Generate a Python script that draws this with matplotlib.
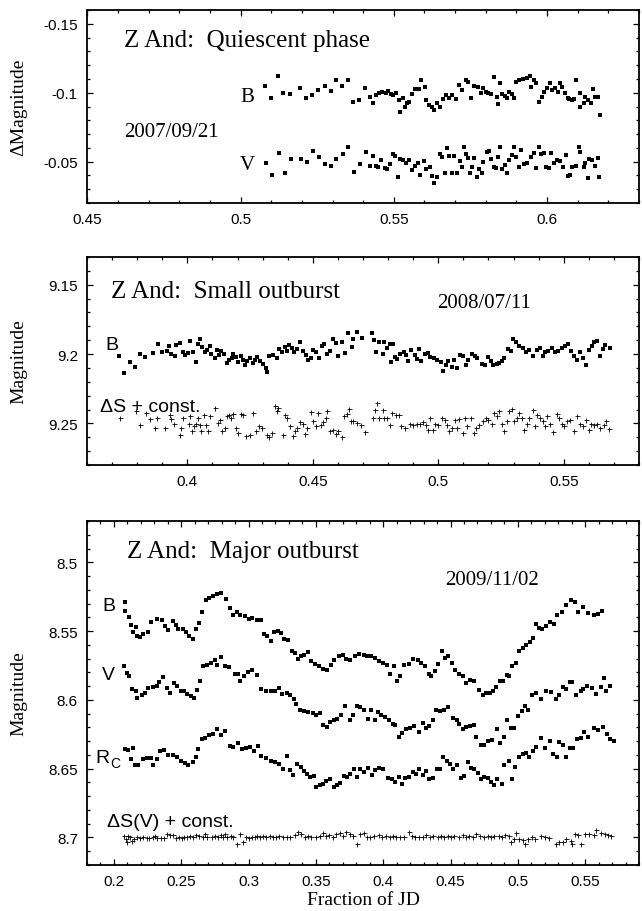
import matplotlib
matplotlib.use("Agg")
import matplotlib.pyplot as plt
from matplotlib.ticker import MultipleLocator, FormatStrFormatter

plt.rcParams['font.family'] = ['Liberation Sans', 'DejaVu Sans']
SERIF = ['Liberation Serif', 'DejaVu Serif']

# ---- 2007/09/21 quiescent phase (delta magnitudes) ----
quiet_b_jd = [0.5081, 0.5100, 0.5121, 0.5140, 0.5160, 0.5194, 0.5214, 0.5233, 0.5254, 0.5274,
              0.5294, 0.5313, 0.5332, 0.5349, 0.5366, 0.5385, 0.5407, 0.5423, 0.5431, 0.5441,
              0.5451, 0.5463, 0.5473, 0.5481, 0.5490, 0.5499, 0.5507, 0.5517, 0.5521, 0.5530,
              0.5537, 0.5543, 0.5550, 0.5561, 0.5570, 0.5581, 0.5590, 0.5601, 0.5606, 0.5614,
              0.5623, 0.5632, 0.5640, 0.5650, 0.5659, 0.5670, 0.5680, 0.5691, 0.5703, 0.5712,
              0.5723, 0.5734, 0.5743, 0.5752, 0.5763, 0.5774, 0.5783, 0.5792, 0.5800, 0.5806,
              0.5816, 0.5827, 0.5836, 0.5840, 0.5846, 0.5854, 0.5863, 0.5870, 0.5876, 0.5885,
              0.5893, 0.5899, 0.5909, 0.5920, 0.5933, 0.5943, 0.5949, 0.5956, 0.5965, 0.5973,
              0.5983, 0.5989, 0.6000, 0.6009, 0.6016, 0.6027, 0.6036, 0.6043, 0.6049, 0.6059,
              0.6067, 0.6072, 0.6083, 0.6089, 0.6096, 0.6107, 0.6109, 0.6120, 0.6125, 0.6133,
              0.6142, 0.6149, 0.6157, 0.6165, 0.6173]
quiet_b_mag = [-0.1048, -0.0959, -0.1121, -0.0995, -0.0988, -0.1031, -0.0959, -0.0983, -0.1019, -0.1048,
               -0.1014, -0.1092, -0.1048, -0.1092, -0.0935, -0.0947, -0.1031, -0.0966, -0.0923, -0.0983,
               -0.0995, -0.1007, -0.0995, -0.1014, -0.0990, -0.0983, -0.1000, -0.0947, -0.0862, -0.0959,
               -0.0894, -0.0923, -0.0935, -0.0990, -0.1024, -0.1024, -0.1092, -0.1043, -0.0947, -0.0911,
               -0.0899, -0.0874, -0.0923, -0.0899, -0.0952, -0.0983, -0.0959, -0.0983, -0.0952, -0.1056,
               -0.1019, -0.1092, -0.1080, -0.0959, -0.1048, -0.1039, -0.0995, -0.1031, -0.1007, -0.0995,
               -0.0990, -0.1111, -0.0971, -0.0918, -0.1068, -0.0990, -0.0976, -0.0959, -0.1007, -0.0990,
               -0.0959, -0.1080, -0.1092, -0.1097, -0.1104, -0.1121, -0.1039, -0.1092, -0.1072, -0.0935,
               -0.0971, -0.1007, -0.1031, -0.1072, -0.1019, -0.1031, -0.1007, -0.1068, -0.1043, -0.1000,
               -0.0959, -0.0952, -0.0947, -0.0957, -0.1092, -0.0995, -0.0899, -0.0923, -0.0971, -0.0947,
               -0.0923, -0.1024, -0.0971, -0.0966, -0.0838]
quiet_v_jd = [0.5084, 0.5104, 0.5124, 0.5144, 0.5164, 0.5197, 0.5217, 0.5237, 0.5257, 0.5277,
              0.5294, 0.5313, 0.5334, 0.5350, 0.5370, 0.5390, 0.5410, 0.5423, 0.5433, 0.5441,
              0.5450, 0.5459, 0.5470, 0.5477, 0.5486, 0.5497, 0.5503, 0.5513, 0.5521, 0.5530,
              0.5539, 0.5550, 0.5561, 0.5570, 0.5579, 0.5587, 0.5597, 0.5606, 0.5617, 0.5623,
              0.5632, 0.5640, 0.5650, 0.5656, 0.5666, 0.5672, 0.5680, 0.5690, 0.5696, 0.5707,
              0.5716, 0.5723, 0.5730, 0.5736, 0.5743, 0.5750, 0.5756, 0.5763, 0.5770, 0.5779,
              0.5787, 0.5792, 0.5803, 0.5810, 0.5816, 0.5827, 0.5834, 0.5840, 0.5846, 0.5854,
              0.5863, 0.5870, 0.5876, 0.5885, 0.5893, 0.5899, 0.5909, 0.5916, 0.5925, 0.5936,
              0.5947, 0.5956, 0.5963, 0.5973, 0.5979, 0.5989, 0.5996, 0.6005, 0.6013, 0.6023,
              0.6032, 0.6043, 0.6053, 0.6063, 0.6069, 0.6076, 0.6083, 0.6093, 0.6103, 0.6109,
              0.6120, 0.6125, 0.6133, 0.6138, 0.6146, 0.6156, 0.6165, 0.6169]
quiet_v_mag = [-0.0488, -0.0403, -0.0560, -0.0415, -0.0517, -0.0517, -0.0500, -0.0580, -0.0536, -0.0481,
               -0.0469, -0.0517, -0.0556, -0.0604, -0.0428, -0.0483, -0.0568, -0.0469, -0.0541, -0.0471,
               -0.0464, -0.0512, -0.0457, -0.0444, -0.0483, -0.0556, -0.0541, -0.0386, -0.0522, -0.0512,
               -0.0493, -0.0512, -0.0440, -0.0469, -0.0488, -0.0403, -0.0507, -0.0444, -0.0464, -0.0396,
               -0.0343, -0.0386, -0.0556, -0.0536, -0.0415, -0.0597, -0.0541, -0.0420, -0.0541, -0.0415,
               -0.0507, -0.0464, -0.0609, -0.0556, -0.0524, -0.0420, -0.0464, -0.0524, -0.0391, -0.0444,
               -0.0415, -0.0500, -0.0572, -0.0580, -0.0517, -0.0464, -0.0452, -0.0536, -0.0609, -0.0444,
               -0.0476, -0.0420, -0.0512, -0.0548, -0.0609, -0.0536, -0.0459, -0.0585, -0.0483, -0.0493,
               -0.0536, -0.0560, -0.0452, -0.0609, -0.0556, -0.0565, -0.0464, -0.0452, -0.0560, -0.0488,
               -0.0512, -0.0507, -0.0464, -0.0548, -0.0396, -0.0403, -0.0464, -0.0469, -0.0609, -0.0572,
               -0.0464, -0.0493, -0.0379, -0.0517, -0.0512, -0.0469, -0.0524, -0.0391]

# ---- 2008/07/11 small outburst ----
small_b_jd = [0.3726, 0.3746, 0.3770, 0.3790, 0.3810, 0.3830, 0.3863, 0.3883, 0.3897, 0.3917,
              0.3927, 0.3936, 0.3950, 0.3956, 0.3970, 0.3983, 0.3990, 0.4003, 0.4012, 0.4023,
              0.4034, 0.4043, 0.4052, 0.4060, 0.4070, 0.4079, 0.4090, 0.4096, 0.4110, 0.4119,
              0.4127, 0.4136, 0.4145, 0.4156, 0.4167, 0.4176, 0.4183, 0.4193, 0.4203, 0.4212,
              0.4220, 0.4229, 0.4239, 0.4249, 0.4260, 0.4269, 0.4279, 0.4289, 0.4303, 0.4313,
              0.4319, 0.4326, 0.4342, 0.4358, 0.4366, 0.4376, 0.4389, 0.4398, 0.4406, 0.4416,
              0.4425, 0.4438, 0.4449, 0.4462, 0.4473, 0.4482, 0.4492, 0.4502, 0.4513, 0.4526,
              0.4536, 0.4545, 0.4558, 0.4569, 0.4582, 0.4593, 0.4602, 0.4615, 0.4629, 0.4642,
              0.4655, 0.4662, 0.4675, 0.4695,
              0.4734, 0.4743, 0.4751, 0.4764, 0.4778, 0.4783, 0.4796, 0.4809, 0.4820,
              0.4813, 0.4827, 0.4836, 0.4849, 0.4863, 0.4873, 0.4880, 0.4893, 0.4907, 0.4916,
              0.4924, 0.4933, 0.4947, 0.4960, 0.4969, 0.4983, 0.4996, 0.5009, 0.5020, 0.5030,
              0.5040, 0.5053, 0.5062, 0.5076, 0.5086, 0.5100, 0.5110, 0.5120, 0.5133, 0.5146,
              0.5156, 0.5173, 0.5186, 0.5200, 0.5209, 0.5219, 0.5233, 0.5243, 0.5253, 0.5262,
              0.5279, 0.5289, 0.5299, 0.5310, 0.5323, 0.5337, 0.5350, 0.5363, 0.5379, 0.5393,
              0.5406, 0.5417, 0.5427, 0.5439, 0.5452, 0.5466, 0.5479, 0.5492, 0.5506, 0.5519,
              0.5528, 0.5539, 0.5552, 0.5566, 0.5576, 0.5590, 0.5599, 0.5612, 0.5622, 0.5632,
              0.5643, 0.5656, 0.5665, 0.5683]
small_b_mag = [9.2012, 9.2139, 9.2060, 9.2091, 9.2002, 9.2019, 9.1995, 9.1930, 9.1983, 9.1978,
               9.1940, 9.2002, 9.2012, 9.1935, 9.1923, 9.1983, 9.2007, 9.1995, 9.1906, 9.1983,
               9.2055, 9.1930, 9.1892, 9.1947, 9.1983, 9.1971, 9.1940, 9.2002, 9.2031, 9.1971,
               9.2007, 9.1978, 9.2002, 9.2067, 9.2043, 9.2026, 9.2002, 9.2019, 9.2055, 9.2012,
               9.2043, 9.2079, 9.2050, 9.2026, 9.2067, 9.2043, 9.2019, 9.2050, 9.2074, 9.2103,
               9.2127, 9.2012, 9.2007, 9.2026, 9.1964, 9.1983, 9.1947, 9.1978, 9.1935, 9.1959,
               9.1983, 9.1964, 9.1911, 9.1978, 9.2007, 9.2043, 9.2026, 9.1971, 9.1983, 9.2026,
               9.1940, 9.1930, 9.2002, 9.1978, 9.1892, 9.1923, 9.2012, 9.1911, 9.1995, 9.1851,
               9.1947, 9.1892, 9.1839, 9.1882,
               9.1851, 9.1899, 9.1983, 9.1911, 9.2002, 9.1916, 9.1959, 9.1930, 9.1930,
               9.2055, 9.2019, 9.2036, 9.2002, 9.1988, 9.2007, 9.2050, 9.1971, 9.2007, 9.2036,
               9.1964, 9.2050, 9.2002, 9.1995, 9.2019, 9.2026, 9.2043, 9.2060, 9.2122, 9.2079,
               9.2050, 9.2091, 9.2043, 9.2103, 9.2007, 9.2012, 9.2079, 9.2043, 9.2002, 9.2012,
               9.2026, 9.2074, 9.2079, 9.2019, 9.2050, 9.2079, 9.2074, 9.2067, 9.2050, 9.2026,
               9.1964, 9.1978, 9.1892, 9.1911, 9.1940, 9.1954, 9.1983, 9.1971, 9.2012, 9.1971,
               9.1954, 9.2012, 9.1988, 9.1978, 9.1954, 9.1988, 9.1978, 9.1954, 9.1940, 9.1930,
               9.1978, 9.2012, 9.2043, 9.1983, 9.2026, 9.2079, 9.1971, 9.1940, 9.1911, 9.1906,
               9.2012, 9.1964, 9.1935, 9.1959]
small_s_jd = [0.3730, 0.3794, 0.3810, 0.3834, 0.3850, 0.3870, 0.3879, 0.3910, 0.3930, 0.3936,
              0.3946, 0.3970, 0.3976, 0.3983, 0.4007, 0.4012, 0.4020, 0.4026, 0.4036, 0.4043,
              0.4050, 0.4056, 0.4066, 0.4074, 0.4083, 0.4090, 0.4110, 0.4123, 0.4129, 0.4140,
              0.4149, 0.4159, 0.4167, 0.4172, 0.4183, 0.4193, 0.4203, 0.4212, 0.4223, 0.4233,
              0.4249, 0.4260, 0.4273, 0.4287, 0.4296, 0.4316, 0.4326, 0.4336, 0.4349, 0.4356,
              0.4362, 0.4380, 0.4389, 0.4396, 0.4409, 0.4420, 0.4429, 0.4438, 0.4449, 0.4460,
              0.4469, 0.4478, 0.4492, 0.4502, 0.4513, 0.4522, 0.4532, 0.4542, 0.4553, 0.4558,
              0.4569, 0.4582, 0.4593, 0.4602, 0.4615, 0.4625, 0.4635, 0.4646, 0.4651, 0.4662,
              0.4678, 0.4691, 0.4709,
              0.4738, 0.4747, 0.4756, 0.4764, 0.4778, 0.4783, 0.4796, 0.4809,
              0.4817, 0.4831, 0.4844, 0.4853, 0.4867, 0.4887, 0.4900, 0.4916, 0.4927, 0.4940,
              0.4951, 0.4960, 0.4969, 0.4977, 0.4987, 0.5000, 0.5013, 0.5026, 0.5036, 0.5044,
              0.5053, 0.5066, 0.5076, 0.5084, 0.5097, 0.5106, 0.5116, 0.5129, 0.5142, 0.5150,
              0.5164, 0.5177, 0.5190, 0.5200, 0.5213, 0.5222, 0.5233, 0.5243, 0.5253, 0.5262,
              0.5273, 0.5283, 0.5293, 0.5302, 0.5313, 0.5323, 0.5333, 0.5342, 0.5353, 0.5363,
              0.5377, 0.5386, 0.5395, 0.5406, 0.5417, 0.5426, 0.5435, 0.5446, 0.5456, 0.5472,
              0.5483, 0.5492, 0.5502, 0.5515, 0.5526, 0.5539, 0.5552, 0.5566, 0.5576, 0.5590,
              0.5599, 0.5608, 0.5619, 0.5632, 0.5645, 0.5659, 0.5669, 0.5679]
small_s_mag = [9.2458, 9.2410, 9.2510, 9.2426, 9.2467, 9.2534, 9.2462, 9.2530, 9.2438, 9.2467,
               9.2506, 9.2582, 9.2534, 9.2462, 9.2506, 9.2450, 9.2558, 9.2522, 9.2506, 9.2462,
               9.2510, 9.2558, 9.2443, 9.2515, 9.2554, 9.2450, 9.2390, 9.2498, 9.2474, 9.2558,
               9.2534, 9.2450, 9.2438, 9.2462, 9.2434, 9.2534, 9.2570, 9.2434, 9.2438, 9.2594,
               9.2582, 9.2426, 9.2558, 9.2522, 9.2534, 9.2582, 9.2601, 9.2570, 9.2371, 9.2410,
               9.2390, 9.2582, 9.2438, 9.2462, 9.2522, 9.2594, 9.2554, 9.2534, 9.2491, 9.2506,
               9.2578, 9.2534, 9.2419, 9.2486, 9.2522, 9.2426, 9.2510, 9.2491, 9.2462, 9.2410,
               9.2558, 9.2546, 9.2578, 9.2558, 9.2601, 9.2450, 9.2434, 9.2395, 9.2486, 9.2482,
               9.2498, 9.2510, 9.2563,
               9.2458, 9.2402, 9.2355, 9.2458, 9.2402, 9.2462, 9.2462, 9.2515,
               9.2426, 9.2443, 9.2443, 9.2522, 9.2534, 9.2506, 9.2510, 9.2506, 9.2506, 9.2491,
               9.2515, 9.2546, 9.2458, 9.2546, 9.2506, 9.2515, 9.2458, 9.2474, 9.2515, 9.2558,
               9.2534, 9.2474, 9.2530, 9.2467, 9.2570, 9.2462, 9.2522, 9.2458, 9.2570, 9.2534,
               9.2515, 9.2486, 9.2458, 9.2474, 9.2506, 9.2426, 9.2450, 9.2410, 9.2506, 9.2554,
               9.2486, 9.2410, 9.2395, 9.2486, 9.2458, 9.2426, 9.2462, 9.2546, 9.2506, 9.2462,
               9.2402, 9.2522, 9.2438, 9.2462, 9.2486, 9.2522, 9.2450, 9.2506, 9.2563, 9.2434,
               9.2458, 9.2506, 9.2522, 9.2486, 9.2474, 9.2558, 9.2450, 9.2506, 9.2522, 9.2474,
               9.2546, 9.2506, 9.2515, 9.2506, 9.2534, 9.2515, 9.2482, 9.2539]

# ---- 2009/11/02 major outburst ----
major_b_jd = [0.2082, 0.2082, 0.2112, 0.2127, 0.2164, 0.2144, 0.2169, 0.2194, 0.2218, 0.2251,
              0.2275, 0.2317, 0.2354, 0.2379, 0.2399, 0.2436, 0.2461, 0.2478, 0.2510, 0.2535,
              0.2560, 0.2584, 0.2609, 0.2634, 0.2654, 0.2681, 0.2708, 0.2738, 0.2767, 0.2799,
              0.2832, 0.2861, 0.2886, 0.2911, 0.2940, 0.2973, 0.3002, 0.3029, 0.3059, 0.3089,
              0.3114, 0.3138, 0.3163, 0.3188, 0.3217, 0.3242, 0.3262, 0.3292, 0.3321, 0.3344,
              0.3366, 0.3393, 0.3415, 0.3440, 0.3465, 0.3494, 0.3524, 0.3554, 0.3586, 0.3613,
              0.3638, 0.3672, 0.3702, 0.3727, 0.3756, 0.3791, 0.3821, 0.3855,
              0.3877, 0.3910, 0.3942, 0.3971, 0.4001, 0.4026, 0.4050, 0.4078, 0.4100, 0.4125,
              0.4157, 0.4189, 0.4224, 0.4256, 0.4280, 0.4313, 0.4337, 0.4357, 0.4387, 0.4409,
              0.4436, 0.4456, 0.4478, 0.4510, 0.4530, 0.4560, 0.4590, 0.4614, 0.4644, 0.4676,
              0.4708, 0.4738, 0.4763, 0.4792, 0.4812, 0.4837, 0.4866, 0.4891, 0.4916, 0.4931,
              0.4960, 0.4985, 0.5010, 0.5035, 0.5059, 0.5089, 0.5109, 0.5134, 0.5158, 0.5183,
              0.5208, 0.5237, 0.5270, 0.5294, 0.5326, 0.5361, 0.5396, 0.5425, 0.5450, 0.5485,
              0.5524, 0.5569, 0.5598, 0.5628]
major_b_mag = [8.5292, 8.5352, 8.5401, 8.5456, 8.5473, 8.5509, 8.5533, 8.5546, 8.5521, 8.5504,
               8.5432, 8.5413, 8.5418, 8.5466, 8.5490, 8.5425, 8.5456, 8.5485, 8.5485, 8.5509,
               8.5533, 8.5558, 8.5485, 8.5442, 8.5364, 8.5273, 8.5263, 8.5248, 8.5234, 8.5224,
               8.5268, 8.5335, 8.5384, 8.5364, 8.5384, 8.5393, 8.5413, 8.5408, 8.5418, 8.5418,
               8.5521, 8.5538, 8.5570, 8.5509, 8.5497, 8.5514, 8.5558, 8.5562, 8.5642, 8.5659,
               8.5703, 8.5683, 8.5674, 8.5654, 8.5715, 8.5739, 8.5756, 8.5775, 8.5780, 8.5746,
               8.5707, 8.5683, 8.5674, 8.5703, 8.5707, 8.5683, 8.5666, 8.5671,
               8.5678, 8.5683, 8.5698, 8.5715, 8.5732, 8.5746, 8.5811, 8.5756, 8.5860, 8.5823,
               8.5746, 8.5739, 8.5703, 8.5707, 8.5732, 8.5756, 8.5811, 8.5828, 8.5787, 8.5739,
               8.5647, 8.5698, 8.5678, 8.5732, 8.5780, 8.5811, 8.5823, 8.5876, 8.5852, 8.5860,
               8.5925, 8.5968, 8.5949, 8.5951, 8.5939, 8.5908, 8.5860, 8.5860, 8.5818, 8.5828,
               8.5751, 8.5732, 8.5642, 8.5625, 8.5601, 8.5577, 8.5553, 8.5449, 8.5480, 8.5485,
               8.5466, 8.5432, 8.5449, 8.5384, 8.5364, 8.5311, 8.5273, 8.5292, 8.5360, 8.5328,
               8.5369, 8.5384, 8.5376, 8.5352]
major_v_jd = [0.2075, 0.2095, 0.2115, 0.2132, 0.2164, 0.2174, 0.2206, 0.2231, 0.2255, 0.2288,
              0.2317, 0.2337, 0.2367, 0.2391, 0.2416, 0.2446, 0.2471, 0.2495, 0.2520, 0.2540,
              0.2569, 0.2594, 0.2614, 0.2639, 0.2663, 0.2688, 0.2718, 0.2750, 0.2762, 0.2795,
              0.2824, 0.2856, 0.2898, 0.2923, 0.2940, 0.2965, 0.2997, 0.3029, 0.3064, 0.3096,
              0.3133, 0.3163, 0.3195, 0.3225, 0.3252, 0.3282, 0.3311, 0.3336, 0.3356, 0.3381,
              0.3410, 0.3442, 0.3480, 0.3504, 0.3529, 0.3554, 0.3583, 0.3603, 0.3633, 0.3658,
              0.3690, 0.3714, 0.3751, 0.3776, 0.3806, 0.3831, 0.3855,
              0.3885, 0.3910, 0.3942, 0.3959, 0.3984, 0.4016, 0.4041, 0.4070, 0.4090, 0.4115,
              0.4140, 0.4169, 0.4199, 0.4231, 0.4263, 0.4293, 0.4318, 0.4337, 0.4367, 0.4392,
              0.4421, 0.4454, 0.4478, 0.4515, 0.4545, 0.4565, 0.4590, 0.4614, 0.4644, 0.4676,
              0.4693, 0.4726, 0.4750, 0.4775, 0.4807, 0.4842, 0.4866, 0.4899, 0.4923, 0.4948,
              0.4973, 0.4998, 0.5030, 0.5054, 0.5079, 0.5104, 0.5134, 0.5171, 0.5208, 0.5245,
              0.5282, 0.5307, 0.5336, 0.5361, 0.5386, 0.5406, 0.5435, 0.5467, 0.5485, 0.5517,
              0.5554, 0.5579, 0.5616, 0.5641, 0.5658, 0.5683]
major_v_mag = [8.5756, 8.5804, 8.5823, 8.5920, 8.5932, 8.5988, 8.5963, 8.5949, 8.5915, 8.5908,
               8.5901, 8.5867, 8.5835, 8.5915, 8.5949, 8.5876, 8.5896, 8.5939, 8.5932, 8.5956,
               8.5973, 8.5988, 8.5925, 8.5860, 8.5756, 8.5746, 8.5732, 8.5707, 8.5746, 8.5690,
               8.5751, 8.5763, 8.5811, 8.5811, 8.5860, 8.5823, 8.5794, 8.5780, 8.5818, 8.5920,
               8.5932, 8.5939, 8.5932, 8.5915, 8.5956, 8.5949, 8.5968, 8.5992, 8.6029, 8.6077,
               8.6084, 8.6089, 8.6094, 8.6113, 8.6094, 8.6181, 8.6198, 8.6161, 8.6149, 8.6137,
               8.6113, 8.6041, 8.6149, 8.6113, 8.6041, 8.6053, 8.6077,
               8.6137, 8.6077, 8.6149, 8.6089, 8.6108, 8.6125, 8.6149, 8.6174, 8.6186, 8.6270,
               8.6239, 8.6210, 8.6205, 8.6191, 8.6234, 8.6166, 8.6205, 8.6191, 8.6149, 8.6077,
               8.6084, 8.6077, 8.6053, 8.6133, 8.6149, 8.6174, 8.6215, 8.6198, 8.6191, 8.6186,
               8.6270, 8.6326, 8.6326, 8.6302, 8.6294, 8.6215, 8.6311, 8.6270, 8.6149, 8.6205,
               8.6205, 8.6118, 8.6084, 8.6046, 8.6077, 8.5968, 8.5949, 8.5992, 8.5932, 8.5944,
               8.5997, 8.5963, 8.5908, 8.5920, 8.5872, 8.5867, 8.5968, 8.5932, 8.5920, 8.5896,
               8.5915, 8.5956, 8.5908, 8.5843, 8.5932, 8.5901]
major_r_jd = [0.2082, 0.2107, 0.2144, 0.2124, 0.2157, 0.2181, 0.2213, 0.2243, 0.2273, 0.2293,
              0.2317, 0.2342, 0.2372, 0.2404, 0.2436, 0.2466, 0.2495, 0.2527, 0.2552, 0.2584,
              0.2609, 0.2626, 0.2651, 0.2678, 0.2708, 0.2738, 0.2767, 0.2799, 0.2824, 0.2861,
              0.2886, 0.2923, 0.2948, 0.2980, 0.3010, 0.3039, 0.3071, 0.3096, 0.3128, 0.3163,
              0.3195, 0.3227, 0.3257, 0.3282, 0.3311, 0.3331, 0.3361, 0.3386, 0.3410, 0.3435,
              0.3455, 0.3484, 0.3504, 0.3529, 0.3554, 0.3578, 0.3608, 0.3633, 0.3658, 0.3682,
              0.3707, 0.3732, 0.3756, 0.3781, 0.3806, 0.3831, 0.3855,
              0.3885, 0.3917, 0.3942, 0.3971, 0.4001, 0.4033, 0.4065, 0.4090, 0.4115, 0.4140,
              0.4164, 0.4194, 0.4219, 0.4243, 0.4268, 0.4293, 0.4318, 0.4342, 0.4367, 0.4397,
              0.4421, 0.4446, 0.4471, 0.4496, 0.4520, 0.4545, 0.4577, 0.4602, 0.4627, 0.4651,
              0.4676, 0.4701, 0.4726, 0.4750, 0.4775, 0.4800, 0.4824, 0.4849, 0.4881, 0.4899,
              0.4931, 0.4956, 0.4980, 0.5005, 0.5035, 0.5064, 0.5084, 0.5109, 0.5134, 0.5171,
              0.5203, 0.5237, 0.5262, 0.5294, 0.5307, 0.5336, 0.5361, 0.5386, 0.5411, 0.5443,
              0.5467, 0.5492, 0.5524, 0.5566, 0.5598, 0.5633, 0.5665, 0.5683, 0.5715]
major_r_mag = [8.6360, 8.6367, 8.6350, 8.6427, 8.6476, 8.6471, 8.6427, 8.6422, 8.6422, 8.6471,
               8.6432, 8.6374, 8.6367, 8.6398, 8.6403, 8.6415, 8.6447, 8.6456, 8.6476, 8.6451,
               8.6415, 8.6360, 8.6282, 8.6277, 8.6258, 8.6246, 8.6215, 8.6253, 8.6229, 8.6335,
               8.6343, 8.6311, 8.6360, 8.6350, 8.6343, 8.6374, 8.6335, 8.6408, 8.6422, 8.6447,
               8.6451, 8.6463, 8.6500, 8.6408, 8.6512, 8.6543, 8.6463, 8.6487, 8.6519, 8.6536,
               8.6560, 8.6553, 8.6632, 8.6616, 8.6608, 8.6591, 8.6577, 8.6632, 8.6620, 8.6601,
               8.6553, 8.6560, 8.6536, 8.6500, 8.6560, 8.6500, 8.6524,
               8.6495, 8.6543, 8.6512, 8.6495, 8.6500, 8.6567, 8.6577, 8.6596, 8.6560, 8.6608,
               8.6567, 8.6560, 8.6524, 8.6536, 8.6500, 8.6548, 8.6519, 8.6577, 8.6567, 8.6505,
               8.6505, 8.6415, 8.6447, 8.6463, 8.6500, 8.6476, 8.6567, 8.6553, 8.6451, 8.6495,
               8.6505, 8.6529, 8.6577, 8.6560, 8.6567, 8.6596, 8.6616, 8.6577, 8.6608, 8.6476,
               8.6447, 8.6572, 8.6488, 8.6415, 8.6391, 8.6384, 8.6415, 8.6374, 8.6343, 8.6277,
               8.6350, 8.6302, 8.6391, 8.6415, 8.6306, 8.6326, 8.6415, 8.6350, 8.6350, 8.6287,
               8.6277, 8.6234, 8.6270, 8.6205, 8.6222, 8.6198, 8.6246, 8.6287, 8.6302]
major_s_jd = [0.2075, 0.2090, 0.2107, 0.2095, 0.2119, 0.2132, 0.2149, 0.2169, 0.2194, 0.2218,
              0.2243, 0.2263, 0.2288, 0.2305, 0.2322, 0.2347, 0.2372, 0.2396, 0.2416, 0.2436,
              0.2461, 0.2485, 0.2503, 0.2520, 0.2545, 0.2565, 0.2584, 0.2609, 0.2634, 0.2659,
              0.2676, 0.2693, 0.2725, 0.2750, 0.2775, 0.2792, 0.2812, 0.2824, 0.2842, 0.2866,
              0.2886, 0.2916, 0.2940, 0.2955, 0.2980, 0.3000, 0.3022, 0.3047, 0.3064, 0.3084,
              0.3109, 0.3133, 0.3158, 0.3183, 0.3203, 0.3227, 0.3257, 0.3282, 0.3311, 0.3344,
              0.3368, 0.3393, 0.3418, 0.3442, 0.3467, 0.3504, 0.3529, 0.3554, 0.3574, 0.3598,
              0.3628, 0.3648, 0.3677, 0.3702, 0.3727, 0.3751, 0.3776, 0.3806, 0.3831, 0.3855,
              0.3877, 0.3902, 0.3934, 0.3966, 0.3991, 0.4021, 0.4050, 0.4070, 0.4095, 0.4125,
              0.4157, 0.4189, 0.4214, 0.4238, 0.4268, 0.4298, 0.4318, 0.4347, 0.4372, 0.4404,
              0.4429, 0.4454, 0.4478, 0.4503, 0.4528, 0.4560, 0.4590, 0.4614, 0.4639, 0.4669,
              0.4693, 0.4718, 0.4750, 0.4775, 0.4800, 0.4824, 0.4857, 0.4881, 0.4906, 0.4931,
              0.4948, 0.4973, 0.4985, 0.5010, 0.5040, 0.5054, 0.5079, 0.5104, 0.5129, 0.5171,
              0.5203, 0.5232, 0.5287, 0.5307, 0.5336, 0.5361, 0.5393, 0.5406, 0.5425, 0.5450,
              0.5467, 0.5500, 0.5529, 0.5566, 0.5584, 0.5616, 0.5648, 0.5673, 0.5692]
major_s_mag = [8.6986, 8.7010, 8.6986, 8.7034, 8.6998, 8.7022, 8.7010, 8.6998, 8.7005, 8.6998,
               8.7003, 8.7005, 8.6998, 8.6986, 8.7003, 8.7005, 8.7003, 8.6974, 8.6979, 8.6979,
               8.7003, 8.6998, 8.7003, 8.6993, 8.6998, 8.6986, 8.6993, 8.6979, 8.6986, 8.6993,
               8.6974, 8.6993, 8.6993, 8.6986, 8.6998, 8.6979, 8.6998, 8.6974, 8.6993, 8.6986,
               8.6993, 8.7046, 8.6974, 8.7034, 8.6998, 8.7003, 8.6993, 8.6998, 8.6986, 8.6993,
               8.6986, 8.6993, 8.6986, 8.6993, 8.6993, 8.6986, 8.6993, 8.6998, 8.6993, 8.6979,
               8.6962, 8.6974, 8.6993, 8.6986, 8.6998, 8.6993, 8.6986, 8.6969, 8.6986, 8.6979,
               8.6993, 8.6974, 8.6969, 8.6986, 8.6962, 8.6974, 8.6986, 8.7046, 8.6974, 8.6969,
               8.6998, 8.6993, 8.6986, 8.6979, 8.6993, 8.6986, 8.6998, 8.6986, 8.6993, 8.6998,
               8.6993, 8.6962, 8.6986, 8.6993, 8.6998, 8.6993, 8.6979, 8.6993, 8.6986, 8.6998,
               8.6986, 8.6993, 8.6986, 8.6998, 8.6986, 8.6993, 8.6979, 8.6993, 8.6986, 8.6998,
               8.6974, 8.6986, 8.6998, 8.6986, 8.6993, 8.6986, 8.6986, 8.6998, 8.6979, 8.6986,
               8.7034, 8.7010, 8.6969, 8.7010, 8.7017, 8.7046, 8.7010, 8.6993, 8.7010, 8.6986,
               8.6998, 8.7003, 8.7046, 8.7034, 8.7034, 8.7010, 8.7022, 8.7051, 8.6974, 8.6979,
               8.7051, 8.6974, 8.6974, 8.6979, 8.6949, 8.6969, 8.6974, 8.6979, 8.6986]

W, H = 642, 912
fig = plt.figure(figsize=(W / 100, H / 100), dpi=100)


def panel(top, bottom):
    left, right = 87, 639
    return fig.add_axes([left / W, 1 - bottom / H, (right - left) / W, (bottom - top) / H])


def style(ax, xlim, ylim, ylabel):
    ax.set_xlim(*xlim)
    ax.set_ylim(*ylim)
    for axis in (ax.xaxis, ax.yaxis):
        axis.set_major_locator(MultipleLocator(0.05))
        axis.set_minor_locator(MultipleLocator(0.01))
        axis.set_major_formatter(FormatStrFormatter('%g'))
    ax.tick_params(which='both', direction='in', top=True, right=True,
                   labelsize=11, width=0.9, pad=6.5)
    ax.tick_params(which='major', length=4.5)
    ax.tick_params(which='minor', length=2.5)
    for sp in ax.spines.values():
        sp.set_linewidth(1.3)
    ax.set_ylabel(ylabel, family=SERIF, fontsize=14)
    ax.yaxis.set_label_coords(-0.108, 0.5)


def label(ax, x, y, s, size=14, serif=False):
    ax.text(x, y, s, transform=ax.transAxes, fontsize=size, va='baseline',
            family=SERIF if serif else ['Liberation Sans', 'DejaVu Sans'])


sq = dict(ls='none', marker='s', ms=3.0, mew=0, color='k')
pl = dict(ls='none', marker='+', ms=3.6, mew=0.6, color='k')

# top: quiescent
ax1 = panel(11, 204)
ax1.plot(quiet_b_jd, quiet_b_mag, **sq)
ax1.plot(quiet_v_jd, quiet_v_mag, **sq)
style(ax1, (0.4499, 0.63), (-0.02, -0.16), 'ΔMagnitude')
label(ax1, 0.067, 0.813, 'Z And:  Quiescent phase', 18, True)
label(ax1, 0.067, 0.347, '2007/09/21', 15, True)
label(ax1, 0.277, 0.528, 'B', 15, True)
label(ax1, 0.277, 0.176, 'V', 15, True)

# middle: small outburst
ax2 = panel(258, 466)
ax2.plot(small_b_jd, small_b_mag, **sq)
ax2.plot(small_s_jd, small_s_mag, **pl)
style(ax2, (0.36, 0.58), (9.28, 9.13), 'Magnitude')
label(ax2, 0.0435, 0.808, 'Z And:  Small outburst', 18, True)
label(ax2, 0.634, 0.760, '2008/07/11', 15, True)
label(ax2, 0.0326, 0.558, 'B')
label(ax2, 0.0236, 0.26, 'ΔS + const.')

# bottom: major outburst
ax3 = panel(522, 866)
ax3.plot(major_b_jd, major_b_mag, **sq)
ax3.plot(major_v_jd, major_v_mag, **sq)
ax3.plot(major_r_jd, major_r_mag, **sq)
ax3.plot(major_s_jd, major_s_mag, **pl)
style(ax3, (0.18, 0.59), (8.72, 8.47), 'Magnitude')
ax3.set_xlabel('Fraction of JD', family=SERIF, fontsize=14)
ax3.xaxis.set_label_coords(0.5, -0.077)
label(ax3, 0.0725, 0.895, 'Z And:  Major outburst', 18, True)
label(ax3, 0.6486, 0.817, '2009/11/02', 15, True)
label(ax3, 0.027, 0.741, 'B')
label(ax3, 0.027, 0.541, 'V')
label(ax3, 0.0145, 0.299, 'R')
label(ax3, 0.0417, 0.285, 'C', 10)
label(ax3, 0.036, 0.113, 'ΔS(V) + const.')

fig.savefig('out.png', dpi=100)
